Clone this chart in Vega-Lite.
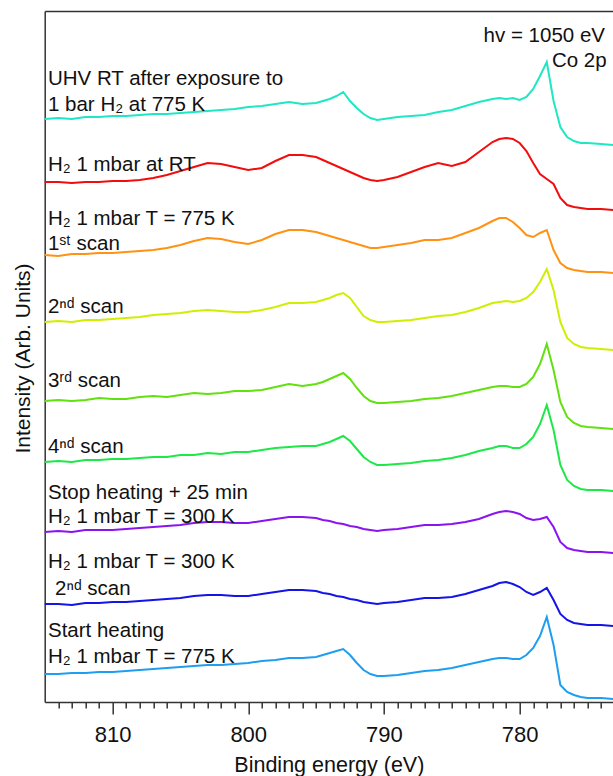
{
"$schema": "https://vega.github.io/schema/vega-lite/v6.json",
"width": 568.3, "height": 691,
"autosize": {"type": "none"},
"padding": {"left": 44.7, "top": 11, "right": 0, "bottom": 74},
"background": "white",
"config": {
  "view": {"stroke": null},
  "font": "Liberation Sans",
  "axis": {"grid": false, "domainColor": "#333", "domainWidth": 1.5, "tickColor": "#333", "tickWidth": 1.5,
           "labelFont": "Liberation Sans", "labelFontSize": 22, "labelColor": "#111",
           "titleFont": "Liberation Sans", "titleFontSize": 21.5, "titleFontWeight": "normal", "titleColor": "#111"}
},
"datasets": {
"spectra": [
{"s":"UHV","e":815,"v":583},{"s":"UHV","e":814,"v":584},{"s":"UHV","e":813,"v":583},{"s":"UHV","e":812,"v":585},{"s":"UHV","e":811,"v":585},{"s":"UHV","e":810,"v":586},{"s":"UHV","e":809,"v":586},{"s":"UHV","e":808,"v":587},{"s":"UHV","e":807,"v":588},{"s":"UHV","e":806,"v":588},
{"s":"UHV","e":805,"v":589},{"s":"UHV","e":804,"v":590},{"s":"UHV","e":803,"v":591},{"s":"UHV","e":802,"v":592},{"s":"UHV","e":801,"v":593},{"s":"UHV","e":800,"v":595},{"s":"UHV","e":799,"v":596},{"s":"UHV","e":798,"v":598},{"s":"UHV","e":797,"v":600},{"s":"UHV","e":796,"v":598},
{"s":"UHV","e":795,"v":599},{"s":"UHV","e":794.5,"v":601},{"s":"UHV","e":794,"v":603},{"s":"UHV","e":793.5,"v":606},{"s":"UHV","e":793,"v":610},{"s":"UHV","e":792.5,"v":601},{"s":"UHV","e":792,"v":594},{"s":"UHV","e":791.5,"v":588},{"s":"UHV","e":791,"v":584},{"s":"UHV","e":790.5,"v":582},
{"s":"UHV","e":790,"v":583},{"s":"UHV","e":789,"v":585},{"s":"UHV","e":788,"v":586},{"s":"UHV","e":787,"v":587},{"s":"UHV","e":786,"v":590},{"s":"UHV","e":785,"v":592},{"s":"UHV","e":784,"v":596},{"s":"UHV","e":783,"v":600},{"s":"UHV","e":782,"v":603},{"s":"UHV","e":781.5,"v":604},
{"s":"UHV","e":781,"v":603},{"s":"UHV","e":780.5,"v":604},{"s":"UHV","e":780,"v":602},{"s":"UHV","e":779.5,"v":605},{"s":"UHV","e":779,"v":613},{"s":"UHV","e":778.5,"v":626},{"s":"UHV","e":778,"v":640},{"s":"UHV","e":777.5,"v":601},{"s":"UHV","e":777,"v":575},{"s":"UHV","e":776.5,"v":565},
{"s":"UHV","e":776,"v":561},{"s":"UHV","e":775.5,"v":559},{"s":"UHV","e":775,"v":559},{"s":"UHV","e":774,"v":558},{"s":"UHV","e":773,"v":557},

{"s":"RT","e":815,"v":520},{"s":"RT","e":814,"v":520},{"s":"RT","e":813,"v":519},{"s":"RT","e":812,"v":520},{"s":"RT","e":811,"v":520},{"s":"RT","e":810,"v":521},{"s":"RT","e":809,"v":521},{"s":"RT","e":808,"v":522},{"s":"RT","e":807,"v":524},{"s":"RT","e":806,"v":527},
{"s":"RT","e":805,"v":531},{"s":"RT","e":804,"v":535},{"s":"RT","e":803,"v":539},{"s":"RT","e":802,"v":538},{"s":"RT","e":801,"v":535},{"s":"RT","e":800,"v":532},{"s":"RT","e":799,"v":534},{"s":"RT","e":798,"v":541},{"s":"RT","e":797,"v":547},{"s":"RT","e":796,"v":547},
{"s":"RT","e":795,"v":545},{"s":"RT","e":794.5,"v":542},{"s":"RT","e":794,"v":539},{"s":"RT","e":793.5,"v":536},{"s":"RT","e":793,"v":533},{"s":"RT","e":792.5,"v":530},{"s":"RT","e":792,"v":527},{"s":"RT","e":791.5,"v":524},{"s":"RT","e":791,"v":522},{"s":"RT","e":790.5,"v":521},
{"s":"RT","e":790,"v":522},{"s":"RT","e":789,"v":525},{"s":"RT","e":788,"v":530},{"s":"RT","e":787,"v":535},{"s":"RT","e":786,"v":539},{"s":"RT","e":785,"v":536},{"s":"RT","e":784,"v":540},{"s":"RT","e":783,"v":550},{"s":"RT","e":782,"v":560},{"s":"RT","e":781.5,"v":563},
{"s":"RT","e":781,"v":564},{"s":"RT","e":780.5,"v":563},{"s":"RT","e":780,"v":559},{"s":"RT","e":779.5,"v":551},{"s":"RT","e":779,"v":539},{"s":"RT","e":778.5,"v":528},{"s":"RT","e":778,"v":523},{"s":"RT","e":777.5,"v":518},{"s":"RT","e":777,"v":504},{"s":"RT","e":776.5,"v":497},
{"s":"RT","e":776,"v":495},{"s":"RT","e":775.5,"v":494},{"s":"RT","e":775,"v":493},{"s":"RT","e":774,"v":493},{"s":"RT","e":773,"v":492},

{"s":"775K-1","e":815,"v":447},{"s":"775K-1","e":814,"v":446},{"s":"775K-1","e":813,"v":448},{"s":"775K-1","e":812,"v":448},{"s":"775K-1","e":811,"v":449},{"s":"775K-1","e":810,"v":449},{"s":"775K-1","e":809,"v":450},{"s":"775K-1","e":808,"v":451},{"s":"775K-1","e":807,"v":452},{"s":"775K-1","e":806,"v":454},
{"s":"775K-1","e":805,"v":457},{"s":"775K-1","e":804,"v":461},{"s":"775K-1","e":803,"v":464},{"s":"775K-1","e":802,"v":463},{"s":"775K-1","e":801,"v":460},{"s":"775K-1","e":800,"v":458},{"s":"775K-1","e":799,"v":462},{"s":"775K-1","e":798,"v":468},{"s":"775K-1","e":797,"v":472},{"s":"775K-1","e":796,"v":472},
{"s":"775K-1","e":795,"v":470},{"s":"775K-1","e":794.5,"v":468},{"s":"775K-1","e":794,"v":466},{"s":"775K-1","e":793.5,"v":464},{"s":"775K-1","e":793,"v":462},{"s":"775K-1","e":792.5,"v":460},{"s":"775K-1","e":792,"v":458},{"s":"775K-1","e":791.5,"v":456},{"s":"775K-1","e":791,"v":454},{"s":"775K-1","e":790.5,"v":454},
{"s":"775K-1","e":790,"v":455},{"s":"775K-1","e":789,"v":457},{"s":"775K-1","e":788,"v":459},{"s":"775K-1","e":787,"v":462},{"s":"775K-1","e":786,"v":462},{"s":"775K-1","e":785,"v":464},{"s":"775K-1","e":784,"v":469},{"s":"775K-1","e":783,"v":474},{"s":"775K-1","e":782,"v":481},{"s":"775K-1","e":781.5,"v":484},
{"s":"775K-1","e":781,"v":484},{"s":"775K-1","e":780.5,"v":480},{"s":"775K-1","e":780,"v":474},{"s":"775K-1","e":779.5,"v":467},{"s":"775K-1","e":779,"v":465},{"s":"775K-1","e":778.5,"v":469},{"s":"775K-1","e":778,"v":472},{"s":"775K-1","e":777.5,"v":452},{"s":"775K-1","e":777,"v":439},{"s":"775K-1","e":776.5,"v":434},
{"s":"775K-1","e":776,"v":432},{"s":"775K-1","e":775.5,"v":431},{"s":"775K-1","e":775,"v":430},{"s":"775K-1","e":774,"v":430},{"s":"775K-1","e":773,"v":429},

{"s":"775K-2","e":815,"v":380},{"s":"775K-2","e":814,"v":381},{"s":"775K-2","e":813,"v":380},{"s":"775K-2","e":812,"v":382},{"s":"775K-2","e":811,"v":382},{"s":"775K-2","e":810,"v":383},{"s":"775K-2","e":809,"v":384},{"s":"775K-2","e":808,"v":385},{"s":"775K-2","e":807,"v":387},{"s":"775K-2","e":806,"v":388},
{"s":"775K-2","e":805,"v":389},{"s":"775K-2","e":804,"v":391},{"s":"775K-2","e":803,"v":392},{"s":"775K-2","e":802,"v":391},{"s":"775K-2","e":801,"v":390},{"s":"775K-2","e":800,"v":390},{"s":"775K-2","e":799,"v":392},{"s":"775K-2","e":798,"v":395},{"s":"775K-2","e":797,"v":399},{"s":"775K-2","e":796,"v":399},
{"s":"775K-2","e":795,"v":400},{"s":"775K-2","e":794.5,"v":402},{"s":"775K-2","e":794,"v":404},{"s":"775K-2","e":793.5,"v":407},{"s":"775K-2","e":793,"v":409},{"s":"775K-2","e":792.5,"v":404},{"s":"775K-2","e":792,"v":395},{"s":"775K-2","e":791.5,"v":386},{"s":"775K-2","e":791,"v":382},{"s":"775K-2","e":790.5,"v":380},
{"s":"775K-2","e":790,"v":380},{"s":"775K-2","e":789,"v":381},{"s":"775K-2","e":788,"v":382},{"s":"775K-2","e":787,"v":384},{"s":"775K-2","e":786,"v":386},{"s":"775K-2","e":785,"v":387},{"s":"775K-2","e":784,"v":390},{"s":"775K-2","e":783,"v":394},{"s":"775K-2","e":782,"v":399},{"s":"775K-2","e":781.5,"v":400},
{"s":"775K-2","e":781,"v":401},{"s":"775K-2","e":780.5,"v":400},{"s":"775K-2","e":780,"v":401},{"s":"775K-2","e":779.5,"v":404},{"s":"775K-2","e":779,"v":410},{"s":"775K-2","e":778.5,"v":420},{"s":"775K-2","e":778,"v":433},{"s":"775K-2","e":777.5,"v":412},{"s":"775K-2","e":777,"v":380},{"s":"775K-2","e":776.5,"v":364},
{"s":"775K-2","e":776,"v":358},{"s":"775K-2","e":775.5,"v":355},{"s":"775K-2","e":775,"v":354},{"s":"775K-2","e":774,"v":353},{"s":"775K-2","e":773,"v":352},

{"s":"775K-3","e":815,"v":301},{"s":"775K-3","e":814,"v":302},{"s":"775K-3","e":813,"v":301},{"s":"775K-3","e":812,"v":302},{"s":"775K-3","e":811,"v":304},{"s":"775K-3","e":810,"v":303},{"s":"775K-3","e":809,"v":303},{"s":"775K-3","e":808,"v":305},{"s":"775K-3","e":807,"v":306},{"s":"775K-3","e":806,"v":305},
{"s":"775K-3","e":805,"v":307},{"s":"775K-3","e":804,"v":309},{"s":"775K-3","e":803,"v":308},{"s":"775K-3","e":802,"v":309},{"s":"775K-3","e":801,"v":311},{"s":"775K-3","e":800,"v":311},{"s":"775K-3","e":799,"v":312},{"s":"775K-3","e":798,"v":315},{"s":"775K-3","e":797,"v":318},{"s":"775K-3","e":796,"v":316},
{"s":"775K-3","e":795,"v":318},{"s":"775K-3","e":794.5,"v":320},{"s":"775K-3","e":794,"v":323},{"s":"775K-3","e":793.5,"v":326},{"s":"775K-3","e":793,"v":329},{"s":"775K-3","e":792.5,"v":323},{"s":"775K-3","e":792,"v":314},{"s":"775K-3","e":791.5,"v":306},{"s":"775K-3","e":791,"v":301},{"s":"775K-3","e":790.5,"v":299},
{"s":"775K-3","e":790,"v":299},{"s":"775K-3","e":789,"v":300},{"s":"775K-3","e":788,"v":301},{"s":"775K-3","e":787,"v":303},{"s":"775K-3","e":786,"v":304},{"s":"775K-3","e":785,"v":306},{"s":"775K-3","e":784,"v":309},{"s":"775K-3","e":783,"v":312},{"s":"775K-3","e":782,"v":315},{"s":"775K-3","e":781.5,"v":316},
{"s":"775K-3","e":781,"v":316},{"s":"775K-3","e":780.5,"v":315},{"s":"775K-3","e":780,"v":315},{"s":"775K-3","e":779.5,"v":318},{"s":"775K-3","e":779,"v":325},{"s":"775K-3","e":778.5,"v":338},{"s":"775K-3","e":778,"v":358},{"s":"775K-3","e":777.5,"v":332},{"s":"775K-3","e":777,"v":300},{"s":"775K-3","e":776.5,"v":285},
{"s":"775K-3","e":776,"v":279},{"s":"775K-3","e":775.5,"v":276},{"s":"775K-3","e":775,"v":275},{"s":"775K-3","e":774,"v":274},{"s":"775K-3","e":773,"v":273},

{"s":"775K-4","e":815,"v":240},{"s":"775K-4","e":814,"v":241},{"s":"775K-4","e":813,"v":240},{"s":"775K-4","e":812,"v":242},{"s":"775K-4","e":811,"v":242},{"s":"775K-4","e":810,"v":243},{"s":"775K-4","e":809,"v":243},{"s":"775K-4","e":808,"v":244},{"s":"775K-4","e":807,"v":245},{"s":"775K-4","e":806,"v":245},
{"s":"775K-4","e":805,"v":247},{"s":"775K-4","e":804,"v":247},{"s":"775K-4","e":803,"v":249},{"s":"775K-4","e":802,"v":248},{"s":"775K-4","e":801,"v":250},{"s":"775K-4","e":800,"v":250},{"s":"775K-4","e":799,"v":252},{"s":"775K-4","e":798,"v":254},{"s":"775K-4","e":797,"v":255},{"s":"775K-4","e":796,"v":256},
{"s":"775K-4","e":795,"v":256},{"s":"775K-4","e":794.5,"v":258},{"s":"775K-4","e":794,"v":260},{"s":"775K-4","e":793.5,"v":263},{"s":"775K-4","e":793,"v":266},{"s":"775K-4","e":792.5,"v":261},{"s":"775K-4","e":792,"v":253},{"s":"775K-4","e":791.5,"v":245},{"s":"775K-4","e":791,"v":240},{"s":"775K-4","e":790.5,"v":237},
{"s":"775K-4","e":790,"v":237},{"s":"775K-4","e":789,"v":238},{"s":"775K-4","e":788,"v":239},{"s":"775K-4","e":787,"v":241},{"s":"775K-4","e":786,"v":242},{"s":"775K-4","e":785,"v":244},{"s":"775K-4","e":784,"v":247},{"s":"775K-4","e":783,"v":251},{"s":"775K-4","e":782,"v":254},{"s":"775K-4","e":781.5,"v":256},
{"s":"775K-4","e":781,"v":256},{"s":"775K-4","e":780.5,"v":254},{"s":"775K-4","e":780,"v":254},{"s":"775K-4","e":779.5,"v":258},{"s":"775K-4","e":779,"v":265},{"s":"775K-4","e":778.5,"v":278},{"s":"775K-4","e":778,"v":297},{"s":"775K-4","e":777.5,"v":272},{"s":"775K-4","e":777,"v":237},{"s":"775K-4","e":776.5,"v":222},
{"s":"775K-4","e":776,"v":216},{"s":"775K-4","e":775.5,"v":213},{"s":"775K-4","e":775,"v":212},{"s":"775K-4","e":774,"v":212},{"s":"775K-4","e":773,"v":211},

{"s":"Stop","e":815,"v":170},{"s":"Stop","e":814,"v":171},{"s":"Stop","e":813,"v":170},{"s":"Stop","e":812,"v":172},{"s":"Stop","e":811,"v":172},{"s":"Stop","e":810,"v":172},{"s":"Stop","e":809,"v":173},{"s":"Stop","e":808,"v":174},{"s":"Stop","e":807,"v":175},{"s":"Stop","e":806,"v":176},
{"s":"Stop","e":805,"v":177},{"s":"Stop","e":804,"v":179},{"s":"Stop","e":803,"v":180},{"s":"Stop","e":802,"v":180},{"s":"Stop","e":801,"v":179},{"s":"Stop","e":800,"v":179},{"s":"Stop","e":799,"v":181},{"s":"Stop","e":798,"v":183},{"s":"Stop","e":797,"v":185},{"s":"Stop","e":796,"v":185},
{"s":"Stop","e":795,"v":184},{"s":"Stop","e":794.5,"v":182},{"s":"Stop","e":794,"v":181},{"s":"Stop","e":793.5,"v":179},{"s":"Stop","e":793,"v":178},{"s":"Stop","e":792.5,"v":176},{"s":"Stop","e":792,"v":175},{"s":"Stop","e":791.5,"v":173},{"s":"Stop","e":791,"v":172},{"s":"Stop","e":790.5,"v":171},
{"s":"Stop","e":790,"v":172},{"s":"Stop","e":789,"v":173},{"s":"Stop","e":788,"v":175},{"s":"Stop","e":787,"v":177},{"s":"Stop","e":786,"v":177},{"s":"Stop","e":785,"v":178},{"s":"Stop","e":784,"v":180},{"s":"Stop","e":783,"v":183},{"s":"Stop","e":782,"v":188},{"s":"Stop","e":781.5,"v":190},
{"s":"Stop","e":781,"v":191},{"s":"Stop","e":780.5,"v":190},{"s":"Stop","e":780,"v":188},{"s":"Stop","e":779.5,"v":184},{"s":"Stop","e":779,"v":182},{"s":"Stop","e":778.5,"v":183},{"s":"Stop","e":778,"v":185},{"s":"Stop","e":777.5,"v":175},{"s":"Stop","e":777,"v":160},{"s":"Stop","e":776.5,"v":154},
{"s":"Stop","e":776,"v":152},{"s":"Stop","e":775.5,"v":151},{"s":"Stop","e":775,"v":150},{"s":"Stop","e":774,"v":150},{"s":"Stop","e":773,"v":149},

{"s":"300K-2","e":815,"v":98},{"s":"300K-2","e":814,"v":98},{"s":"300K-2","e":813,"v":97},{"s":"300K-2","e":812,"v":99},{"s":"300K-2","e":811,"v":99},{"s":"300K-2","e":810,"v":100},{"s":"300K-2","e":809,"v":100},{"s":"300K-2","e":808,"v":101},{"s":"300K-2","e":807,"v":102},{"s":"300K-2","e":806,"v":103},
{"s":"300K-2","e":805,"v":104},{"s":"300K-2","e":804,"v":106},{"s":"300K-2","e":803,"v":107},{"s":"300K-2","e":802,"v":107},{"s":"300K-2","e":801,"v":106},{"s":"300K-2","e":800,"v":106},{"s":"300K-2","e":799,"v":108},{"s":"300K-2","e":798,"v":110},{"s":"300K-2","e":797,"v":112},{"s":"300K-2","e":796,"v":112},
{"s":"300K-2","e":795,"v":111},{"s":"300K-2","e":794.5,"v":109},{"s":"300K-2","e":794,"v":108},{"s":"300K-2","e":793.5,"v":106},{"s":"300K-2","e":793,"v":105},{"s":"300K-2","e":792.5,"v":103},{"s":"300K-2","e":792,"v":102},{"s":"300K-2","e":791.5,"v":100},{"s":"300K-2","e":791,"v":99},{"s":"300K-2","e":790.5,"v":98},
{"s":"300K-2","e":790,"v":99},{"s":"300K-2","e":789,"v":100},{"s":"300K-2","e":788,"v":102},{"s":"300K-2","e":787,"v":104},{"s":"300K-2","e":786,"v":104},{"s":"300K-2","e":785,"v":105},{"s":"300K-2","e":784,"v":108},{"s":"300K-2","e":783,"v":112},{"s":"300K-2","e":782,"v":116},{"s":"300K-2","e":781.5,"v":119},
{"s":"300K-2","e":781,"v":120},{"s":"300K-2","e":780.5,"v":118},{"s":"300K-2","e":780,"v":115},{"s":"300K-2","e":779.5,"v":110},{"s":"300K-2","e":779,"v":107},{"s":"300K-2","e":778.5,"v":110},{"s":"300K-2","e":778,"v":114},{"s":"300K-2","e":777.5,"v":102},{"s":"300K-2","e":777,"v":88},{"s":"300K-2","e":776.5,"v":82},
{"s":"300K-2","e":776,"v":79},{"s":"300K-2","e":775.5,"v":78},{"s":"300K-2","e":775,"v":77},{"s":"300K-2","e":774,"v":77},{"s":"300K-2","e":773,"v":76},

{"s":"Start","e":815,"v":28},{"s":"Start","e":814,"v":28},{"s":"Start","e":813,"v":29},{"s":"Start","e":812,"v":29},{"s":"Start","e":811,"v":30},{"s":"Start","e":810,"v":30},{"s":"Start","e":809,"v":31},{"s":"Start","e":808,"v":32},{"s":"Start","e":807,"v":33},{"s":"Start","e":806,"v":34},
{"s":"Start","e":805,"v":35},{"s":"Start","e":804,"v":36},{"s":"Start","e":803,"v":37},{"s":"Start","e":802,"v":37},{"s":"Start","e":801,"v":38},{"s":"Start","e":800,"v":39},{"s":"Start","e":799,"v":41},{"s":"Start","e":798,"v":42},{"s":"Start","e":797,"v":44},{"s":"Start","e":796,"v":44},
{"s":"Start","e":795,"v":45},{"s":"Start","e":794.5,"v":47},{"s":"Start","e":794,"v":49},{"s":"Start","e":793.5,"v":51},{"s":"Start","e":793,"v":53},{"s":"Start","e":792.5,"v":47},{"s":"Start","e":792,"v":39},{"s":"Start","e":791.5,"v":32},{"s":"Start","e":791,"v":28},{"s":"Start","e":790.5,"v":26},
{"s":"Start","e":790,"v":26},{"s":"Start","e":789,"v":27},{"s":"Start","e":788,"v":29},{"s":"Start","e":787,"v":31},{"s":"Start","e":786,"v":32},{"s":"Start","e":785,"v":34},{"s":"Start","e":784,"v":37},{"s":"Start","e":783,"v":40},{"s":"Start","e":782,"v":43},{"s":"Start","e":781.5,"v":44},
{"s":"Start","e":781,"v":44},{"s":"Start","e":780.5,"v":43},{"s":"Start","e":780,"v":43},{"s":"Start","e":779.5,"v":47},{"s":"Start","e":779,"v":54},{"s":"Start","e":778.5,"v":66},{"s":"Start","e":778,"v":85},{"s":"Start","e":777.5,"v":57},{"s":"Start","e":777,"v":17},{"s":"Start","e":776.5,"v":10},
{"s":"Start","e":776,"v":7},{"s":"Start","e":775.5,"v":5},{"s":"Start","e":775,"v":4},{"s":"Start","e":774,"v":4},{"s":"Start","e":773,"v":3}
],
"labelsL": [
{"t":"UHV RT after exposure to","e":814.76,"v":617},
{"t":"1 bar H₂ at 775 K","e":814.76,"v":591},
{"t":"H₂ 1 mbar at RT","e":814.76,"v":531.5},
{"t":"H₂ 1 mbar T = 775 K","e":814.76,"v":477},
{"t":"1ˢᵗ scan","e":814.76,"v":452},
{"t":"2ⁿᵈ scan","e":814.76,"v":389},
{"t":"3ʳᵈ scan","e":814.76,"v":315},
{"t":"4ⁿᵈ scan","e":814.76,"v":249},
{"t":"Stop heating + 25 min","e":814.76,"v":203},
{"t":"H₂ 1 mbar T = 300 K","e":814.76,"v":179},
{"t":"H₂ 1 mbar T = 300 K","e":814.76,"v":134},
{"t":"2ⁿᵈ scan","e":814.24,"v":107},
{"t":"Start heating","e":814.76,"v":65},
{"t":"H₂ 1 mbar T = 775 K","e":814.76,"v":39}
],
"labelsR": [
{"t":"hv = 1050 eV","e":773.71,"v":660},
{"t":"Co 2p","e":773.59,"v":635}
]
},
"resolve": {"axis": {"x": "independent"}},
"layer": [
{
  "data": {"name": "spectra"},
  "mark": {"type": "line", "strokeWidth": 2},
  "encoding": {
    "x": {"field": "e", "type": "quantitative", "scale": {"domain": [773.12, 815], "reverse": true, "nice": false, "zero": false},
          "axis": {"orient": "bottom", "values": [780, 790, 800, 810], "tickSize": 12, "labelPadding": 10, "titlePadding": 9, "title": "Binding energy (eV)", "format": "d"}},
    "y": {"field": "v", "type": "quantitative", "scale": {"domain": [0, 691], "nice": false, "zero": false},
          "axis": {"title": "Intensity (Arb. Units)", "titleFontSize": 21, "labels": false, "ticks": false, "titleX": -15.7, "titleY": 347, "titleBaseline": "alphabetic", "titleAngle": -90}},
    "color": {"field": "s", "type": "nominal", "legend": null,
              "scale": {"domain": ["UHV","RT","775K-1","775K-2","775K-3","775K-4","Stop","300K-2","Start"],
                        "range": ["#1ee8c4","#f20c0c","#ff9214","#d0ee00","#62e010","#1ee848","#8a14f0","#1414e6","#1e9ef0"]}}
  }
},
{
  "data": {"name": "labelsL"},
  "mark": {"type": "text", "align": "left", "baseline": "alphabetic", "fontSize": 20.5, "font": "Liberation Sans", "color": "#111"},
  "encoding": {
    "x": {"field": "e", "type": "quantitative", "scale": {"domain": [773.12, 815], "reverse": true, "nice": false, "zero": false},
          "axis": {"orient": "bottom", "values": [774,775,776,777,778,779,781,782,783,784,785,786,787,788,789,791,792,793,794,795,796,797,798,799,801,802,803,804,805,806,807,808,809,811,812,813,814], "tickSize": 6, "labels": false, "domain": false, "title": null}},
    "y": {"field": "v", "type": "quantitative", "scale": {"domain": [0, 691], "nice": false, "zero": false},
          "axis": {"title": "Intensity (Arb. Units)", "titleFontSize": 21, "labels": false, "ticks": false, "titleX": -15.7, "titleY": 347, "titleBaseline": "alphabetic", "titleAngle": -90}},
    "text": {"field": "t", "type": "nominal"}
  }
},
{
  "data": {"name": "labelsR"},
  "mark": {"type": "text", "align": "right", "baseline": "alphabetic", "fontSize": 20.5, "font": "Liberation Sans", "color": "#111"},
  "encoding": {
    "x": {"field": "e", "type": "quantitative", "scale": {"domain": [773.12, 815], "reverse": true, "nice": false, "zero": false},
          "axis": {"orient": "top", "ticks": false, "labels": false, "domain": true, "title": null}},
    "y": {"field": "v", "type": "quantitative", "scale": {"domain": [0, 691], "nice": false, "zero": false},
          "axis": {"title": "Intensity (Arb. Units)", "titleFontSize": 21, "labels": false, "ticks": false, "titleX": -15.7, "titleY": 347, "titleBaseline": "alphabetic", "titleAngle": -90}},
    "text": {"field": "t", "type": "nominal"}
  }
}
]
}
